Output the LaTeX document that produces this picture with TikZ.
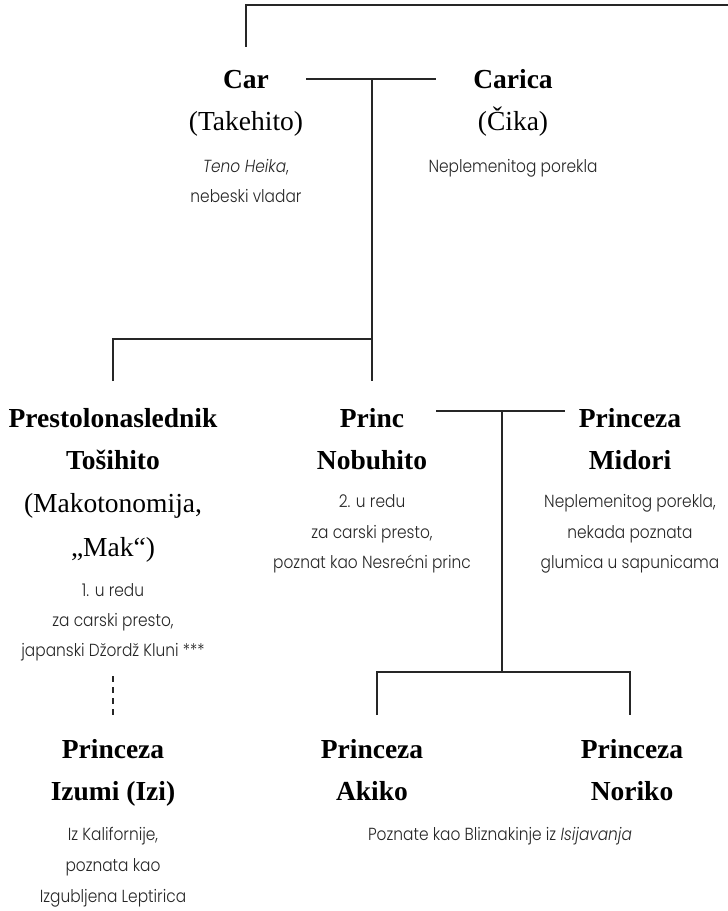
\documentclass[tikz,border=0pt]{standalone}
\usepackage{fontspec}
\setmainfont{Liberation Serif}
\newfontfamily\smf{Poppins}[UprightFont=* Light, ItalicFont=* Light Italic, FakeStretch=0.88]
\begin{document}
\begin{tikzpicture}[x=1pt,y=-1pt,
  nm/.style={anchor=base,inner sep=0pt,font=\fontsize{27.5}{27.5}\selectfont\bfseries},
  pr/.style={anchor=base,inner sep=0pt,font=\fontsize{27.5}{27.5}\selectfont},
  sm/.style={anchor=base,inner sep=0pt,font=\fontsize{17.5}{17.5}\smf\selectfont,text=black!85},
  ln/.style={line width=1.1pt,draw=black!85}]
\useasboundingbox (0,0) rectangle (728,911);
% Generation 1
\node[nm] (car) at (246,88) {Car};
\node[pr] (car2) at (246,130) {(Takehito)};
\node[sm] (car3) at (246,172) {\itshape Teno Heika\upshape,};
\node[sm] (car4) at (246,202) {nebeski vladar};
\node[nm] (carica) at (513,88) {Carica};
\node[pr] (carica2) at (513,130) {(Čika)};
\node[sm] (carica3) at (513,172) {Neplemenitog porekla};
% Generation 2
\node[nm] (tos1) at (113,427) {Prestolonaslednik};
\node[nm] (tos2) at (113,469) {Tošihito};
\node[pr] (tos3) at (113,512) {(Makotonomija,};
\node[pr] (tos4) at (113,556) {„Mak“)};
\node[sm] (tos5) at (113,596) {1. u redu};
\node[sm] (tos6) at (113,626) {za carski presto,};
\node[sm] (tos7) at (113,656) {japanski Džordž Kluni ***};
\node[nm] (nob1) at (372,427) {Princ};
\node[nm] (nob2) at (372,469) {Nobuhito};
\node[sm] (nob3) at (372,507) {2. u redu};
\node[sm] (nob4) at (372,538) {za carski presto,};
\node[sm] (nob5) at (372,568) {poznat kao Nesrećni princ};
\node[nm] (mid1) at (630,427) {Princeza};
\node[nm] (mid2) at (630,469) {Midori};
\node[sm] (mid3) at (630,507) {Neplemenitog porekla,};
\node[sm] (mid4) at (630,538) {nekada poznata};
\node[sm] (mid5) at (630,568) {glumica u sapunicama};
% Generation 3
\node[nm] (izu1) at (113,758) {Princeza};
\node[nm] (izu2) at (113,800) {Izumi (Izi)};
\node[sm] (izu3) at (113,840) {Iz Kalifornije,};
\node[sm] (izu4) at (113,871) {poznata kao};
\node[sm] (izu5) at (113,902) {Izgubljena Leptirica};
\node[nm] (aki1) at (372,758) {Princeza};
\node[nm] (aki2) at (372,800) {Akiko};
\node[nm] (nor1) at (632,758) {Princeza};
\node[nm] (nor2) at (632,800) {Noriko};
\node[sm] (twins) at (500,840) {Poznate kao Bliznakinje iz \itshape Isijavanja};
% Connector points
\coordinate (topR) at (728,5);
\coordinate (topL) at (246,5);
\coordinate (topE) at (246,47);
\coordinate (m1L) at (306,79);
\coordinate (m1R) at (436,79);
\coordinate (m1C) at (372,79);
\coordinate (s1C) at (372,339);
\coordinate (s1L) at (113,339);
\coordinate (s1Le) at (113,381);
\coordinate (s1Ce) at (372,381);
\coordinate (m2L) at (436,411);
\coordinate (m2R) at (565,411);
\coordinate (m2C) at (502,411);
\coordinate (s2C) at (502,672);
\coordinate (s2L) at (377,672);
\coordinate (s2R) at (630,672);
\coordinate (s2Le) at (377,715);
\coordinate (s2Re) at (630,715);
\coordinate (dA) at (113,676);
\coordinate (dB) at (113,716);
% Lines
\draw[ln] (topR) -- (topL) -- (topE);
\draw[ln] (m1L) -- (m1R);
\draw[ln] (m1C) -- (s1C);
\draw[ln] (s1Le) -- (s1L) -- (s1C) -- (s1Ce);
\draw[ln] (m2L) -- (m2R);
\draw[ln] (m2C) -- (s2C);
\draw[ln] (s2Le) -- (s2L) -- (s2R) -- (s2Re);
\draw[ln,dash pattern=on 6pt off 5pt] (dA) -- (dB);
\end{tikzpicture}
\end{document}
